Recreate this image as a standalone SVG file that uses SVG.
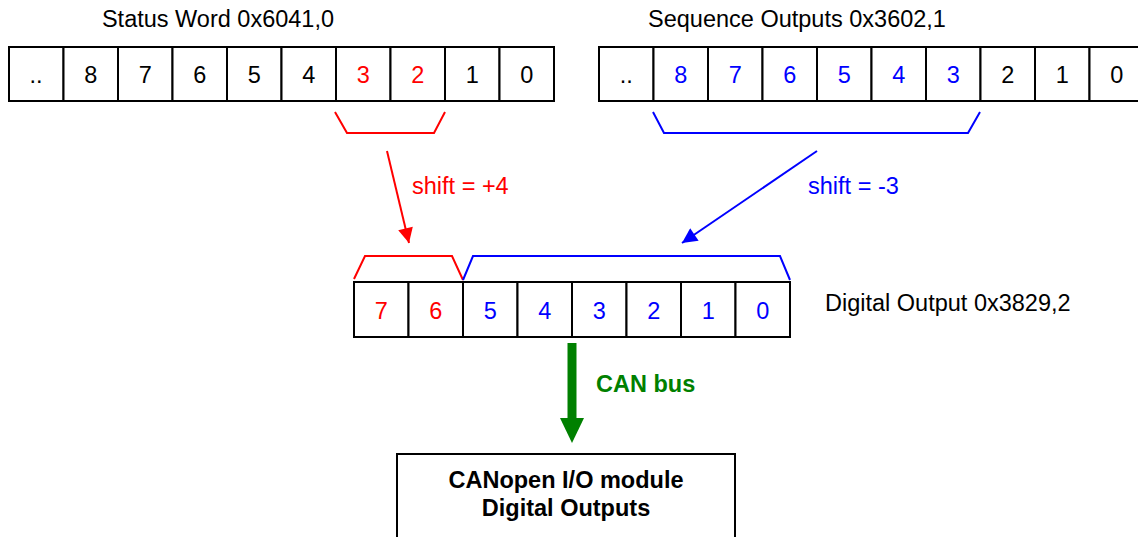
<svg xmlns="http://www.w3.org/2000/svg" width="1138" height="537" viewBox="0 0 1138 537">
<style>
text{font-family:"Liberation Sans",Arial,sans-serif;font-size:23.5px;text-anchor:middle}
.cell{fill:#fff;stroke:#000;stroke-width:2}
.k{fill:#000}.r{fill:#f00}.b{fill:#00f}
.lbl{text-anchor:start}
.bold{font-weight:bold}
</style>
<defs>
<marker id="ar" viewBox="0 0 10 10" refX="10" refY="5" markerWidth="17" markerHeight="15" markerUnits="userSpaceOnUse" orient="auto"><path d="M0,0L10,5L0,10z" fill="#f00"/></marker>
<marker id="ab" viewBox="0 0 10 10" refX="10" refY="5" markerWidth="17" markerHeight="15" markerUnits="userSpaceOnUse" orient="auto"><path d="M0,0L10,5L0,10z" fill="#00f"/></marker>
</defs>
<g id="statusword">
<text x="218" y="27" class="k">Status Word 0x6041,0</text>
<rect class="cell" x="9" y="47" width="54.5" height="54"/><text x="36" y="82.5">..</text>
<rect class="cell" x="63.5" y="47" width="54.5" height="54"/><text x="90.75" y="82.5">8</text>
<rect class="cell" x="118" y="47" width="54.5" height="54"/><text x="145.25" y="82.5">7</text>
<rect class="cell" x="172.5" y="47" width="54.5" height="54"/><text x="199.75" y="82.5">6</text>
<rect class="cell" x="227" y="47" width="54.5" height="54"/><text x="254.25" y="82.5">5</text>
<rect class="cell" x="281.5" y="47" width="54.5" height="54"/><text x="308.75" y="82.5">4</text>
<rect class="cell" x="336" y="47" width="54.5" height="54"/><text x="363.25" y="82.5" class="r">3</text>
<rect class="cell" x="390.5" y="47" width="54.5" height="54"/><text x="417.75" y="82.5" class="r">2</text>
<rect class="cell" x="445" y="47" width="54.5" height="54"/><text x="472.25" y="82.5">1</text>
<rect class="cell" x="499.5" y="47" width="54.5" height="54"/><text x="526.75" y="82.5">0</text>
</g>
<g id="seqoutputs">
<text x="797" y="27" class="k">Sequence Outputs 0x3602,1</text>
<rect class="cell" x="599" y="47" width="54.5" height="54"/><text x="626.25" y="82.5">..</text>
<rect class="cell" x="653.5" y="47" width="54.5" height="54"/><text x="680.75" y="82.5" class="b">8</text>
<rect class="cell" x="708" y="47" width="54.5" height="54"/><text x="735.25" y="82.5" class="b">7</text>
<rect class="cell" x="762.5" y="47" width="54.5" height="54"/><text x="789.75" y="82.5" class="b">6</text>
<rect class="cell" x="817" y="47" width="54.5" height="54"/><text x="844.25" y="82.5" class="b">5</text>
<rect class="cell" x="871.5" y="47" width="54.5" height="54"/><text x="898.75" y="82.5" class="b">4</text>
<rect class="cell" x="926" y="47" width="54.5" height="54"/><text x="953.25" y="82.5" class="b">3</text>
<rect class="cell" x="980.5" y="47" width="54.5" height="54"/><text x="1007.75" y="82.5">2</text>
<rect class="cell" x="1035" y="47" width="54.5" height="54"/><text x="1062.25" y="82.5">1</text>
<rect class="cell" x="1089.5" y="47" width="54.5" height="54"/><text x="1116.75" y="82.5">0</text>
</g>
<g id="digitaloutput">
<rect class="cell" x="354" y="282" width="54.5" height="55"/><text x="381.25" y="318.5" class="r">7</text>
<rect class="cell" x="408.5" y="282" width="54.5" height="55"/><text x="435.75" y="318.5" class="r">6</text>
<rect class="cell" x="463" y="282" width="54.5" height="55"/><text x="490.25" y="318.5" class="b">5</text>
<rect class="cell" x="517.5" y="282" width="54.5" height="55"/><text x="544.75" y="318.5" class="b">4</text>
<rect class="cell" x="572" y="282" width="54.5" height="55"/><text x="599.25" y="318.5" class="b">3</text>
<rect class="cell" x="626.5" y="282" width="54.5" height="55"/><text x="653.75" y="318.5" class="b">2</text>
<rect class="cell" x="681" y="282" width="54.5" height="55"/><text x="708.25" y="318.5" class="b">1</text>
<rect class="cell" x="735.5" y="282" width="54.5" height="55"/><text x="762.75" y="318.5" class="b">0</text>
<text x="825" y="310.5" class="lbl k">Digital Output 0x3829,2</text>
</g>
<g id="module">
<rect x="397" y="454" width="338" height="90" fill="#fff" stroke="#000" stroke-width="2"/>
<text x="566" y="487.5" class="bold">CANopen I/O module</text>
<text x="566" y="516" class="bold">Digital Outputs</text>
</g>
<g id="connectors" fill="none" stroke-width="2">
<path d="M335,112L347,133L434,133L445,112" stroke="#f00"/>
<path d="M653,112L664,133L968,133L980,112" stroke="#00f"/>
<path d="M354,279L365,256L452,256L463,280" stroke="#f00"/>
<path d="M463,280L473,256L780,256L790,280" stroke="#00f"/>
<path d="M387,151L409,243" stroke="#f00" marker-end="url(#ar)"/>
<path d="M817,151L682,243" stroke="#00f" marker-end="url(#ab)"/>
<path d="M572,343V422" stroke="#008000" stroke-width="9"/>
<path d="M560,418L584,418L572,443z" fill="#008000" stroke="none"/>
</g>
<text x="412" y="194" class="lbl r">shift = +4</text>
<text x="808" y="194" class="lbl b">shift = -3</text>
<text x="596" y="392" class="lbl bold" fill="#008000">CAN bus</text>
</svg>
